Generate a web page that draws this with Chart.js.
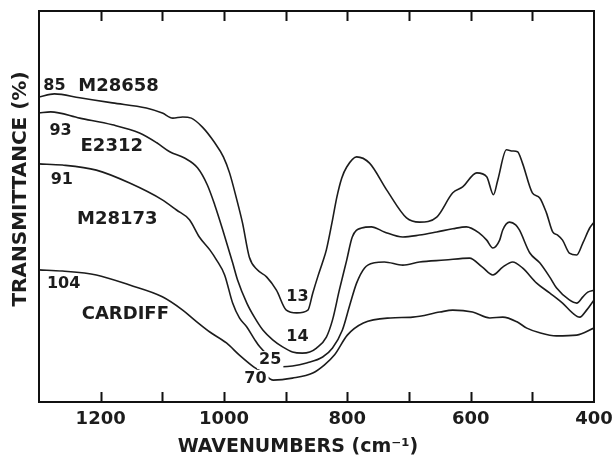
<!DOCTYPE html>
<html>
<head>
<meta charset="utf-8">
<script src="https://cdn.jsdelivr.net/npm/chart.js@4.4.1/dist/chart.umd.min.js"></script>
<style>
  html, body { margin: 0; padding: 0; background: #fff; }
</style>
</head>
<body>
<canvas id="grafica" width="613" height="456"></canvas>
<script>
const $grafica = document.querySelector("#grafica");

// x ticks every 100 cm-1, only these get a number
const tickEtiquetas = [1200, 1000, 800, 600, 400];

// Curves (wavenumber, transmittance in arbitrary stacked units)
const m28658Wn = [1300, 1275, 1234, 1181, 1126, 1100, 1083, 1067, 1053, 1035, 1015, 1001, 991, 980, 970, 959, 946, 931, 915, 899, 882, 864, 856, 848, 840, 834, 824, 817, 809, 801, 785, 764, 736, 704, 683, 655, 629, 613, 590, 574, 563, 556, 542, 532, 524, 516, 500, 488, 477, 467, 459, 451, 440, 428, 418, 407, 400];
const m28658T = [78.0, 78.8, 77.8, 76.5, 75.2, 73.9, 72.6, 72.9, 72.6, 70.3, 66.3, 62.7, 58.6, 52.2, 45.8, 37.1, 33.8, 32.0, 28.6, 23.5, 22.8, 23.5, 27.9, 32.0, 35.8, 38.9, 46.6, 52.4, 57.3, 60.1, 62.7, 61.1, 54.2, 47.1, 46.0, 47.3, 53.5, 55.0, 58.6, 57.6, 53.0, 56.8, 64.5, 64.2, 64.0, 61.1, 53.5, 52.2, 48.3, 43.5, 42.7, 41.4, 38.1, 37.6, 40.7, 44.5, 46.0];

const e2312Wn = [1300, 1281, 1234, 1181, 1137, 1109, 1088, 1064, 1043, 1027, 1015, 1002, 986, 978, 963, 950, 937, 921, 905, 889, 873, 861, 850, 834, 824, 813, 801, 792, 777, 761, 740, 710, 683, 655, 629, 607, 586, 574, 564, 553, 548, 537, 527, 521, 504, 488, 472, 461, 440, 428, 418, 410, 400];
const e2312T = [73.9, 74.2, 72.6, 70.9, 68.8, 66.3, 64.0, 62.4, 59.9, 55.5, 50.4, 44.0, 35.6, 31.2, 25.3, 21.5, 18.4, 15.9, 14.1, 12.8, 12.5, 12.8, 13.8, 16.6, 21.0, 28.6, 36.3, 42.2, 44.5, 44.8, 43.5, 42.2, 42.7, 43.5, 44.3, 44.8, 43.2, 41.4, 39.4, 41.4, 44.0, 46.0, 45.3, 44.0, 38.1, 35.6, 32.0, 29.2, 26.1, 25.3, 26.9, 28.1, 28.6];

const m28173Wn = [1300, 1262, 1207, 1153, 1100, 1077, 1056, 1040, 1023, 1012, 999, 986, 975, 963, 950, 942, 929, 905, 889, 866, 840, 824, 808, 796, 785, 772, 756, 740, 710, 683, 642, 602, 581, 564, 548, 532, 516, 493, 472, 451, 435, 423, 412, 400];
const m28173T = [60.9, 60.6, 59.3, 56.0, 51.7, 49.1, 46.6, 42.2, 38.9, 36.3, 32.5, 25.3, 21.5, 19.2, 15.9, 14.1, 12.0, 9.0, 9.2, 10.0, 11.5, 13.8, 18.4, 24.8, 30.4, 34.3, 35.6, 35.8, 35.0, 35.8, 36.3, 36.8, 34.5, 32.5, 34.5, 35.8, 34.3, 30.4, 27.9, 25.3, 22.8, 21.7, 23.5, 26.1];

const cardiffWn = [1300, 1262, 1207, 1153, 1100, 1067, 1048, 1023, 996, 975, 952, 939, 920, 889, 856, 837, 821, 800, 774, 730, 694, 650, 629, 597, 569, 548, 525, 509, 488, 461, 428, 400];
const cardiffT = [33.8, 33.5, 32.5, 29.9, 26.9, 23.5, 21.0, 17.9, 15.1, 12.0, 9.0, 7.7, 5.6, 6.1, 7.4, 9.5, 12.0, 17.1, 20.2, 21.5, 21.7, 23.0, 23.5, 23.0, 21.5, 21.7, 20.5, 18.9, 17.7, 16.9, 17.1, 18.9];

// curve names and the numbers written at both ends
const muestras = ['M28658', 'E2312', 'M28173', 'CARDIFF'];
const valoresInicio = ['85', '93', '91', '104'];
const valoresMinimo = ['13', '14', '25', '70'];

const curvas = [
    [m28658Wn, m28658T],
    [e2312Wn, e2312T],
    [m28173Wn, m28173T],
    [cardiffWn, cardiffT],
];

const colorTinta = '#1c1c1c';
const fuente = 'DejaVu Sans';

const datasets = curvas.map(([wn, t], i) => ({
    label: muestras[i],
    data: wn.map((w, j) => ({ x: w, y: t[j] })),
    borderColor: colorTinta,
    borderWidth: 1.6,
    pointRadius: 0,
    fill: false,
    cubicInterpolationMode: 'monotone',
}));

// where the texts sit, in data units [wavenumber, y]
const posNombres = [[1171, 80.8], [1182, 65.5], [1173, 46.8], [1160, 22.3]];
const posInicio = [[1275, 80.8], [1265, 69.3], [1263, 56.8], [1260, 30.2]];
const posMinimo = [[881, 26.9], [881, 16.6], [925, 10.7], [949, 5.9]];

const marcoYTextos = {
    id: 'marcoYTextos',
    afterDatasetsDraw(chart) {
        const { ctx, chartArea: a, scales: { x, y } } = chart;
        ctx.save();
        ctx.strokeStyle = '#111';
        ctx.lineWidth = 2;
        // tick marks pointing inwards, top and bottom
        x.ticks.forEach(t => {
            if (t.value <= 400 || t.value >= 1300) return;
            const px = Math.round(x.getPixelForValue(t.value)) + 0.5;
            ctx.beginPath();
            ctx.moveTo(px, a.bottom);
            ctx.lineTo(px, a.bottom - 10);
            ctx.moveTo(px, a.top);
            ctx.lineTo(px, a.top + 10);
            ctx.stroke();
        });
        ctx.strokeRect(a.left, a.top, a.right - a.left, a.bottom - a.top);

        ctx.fillStyle = colorTinta;
        ctx.textAlign = 'center';
        ctx.textBaseline = 'middle';
        const escribir = (txt, p, size, fondo) => {
            const px = x.getPixelForValue(p[0]);
            const py = y.getPixelForValue(p[1]);
            ctx.font = 'bold ' + size + 'px "' + fuente + '"';
            if (fondo) {
                const w = ctx.measureText(txt).width;
                ctx.fillStyle = '#fff';
                ctx.fillRect(px - w / 2 - 2, py - size / 2 - 1, w + 4, size + 2);
                ctx.fillStyle = colorTinta;
            }
            ctx.fillText(txt, px, py);
        };
        muestras.forEach((m, i) => escribir(m, posNombres[i], 18, false));
        valoresInicio.forEach((v, i) => escribir(v, posInicio[i], 16, false));
        valoresMinimo.forEach((v, i) => escribir(v, posMinimo[i], 16, i >= 2));

        // x axis title, sits a bit left of centre in the original
        ctx.font = 'bold 19px "' + fuente + '"';
        ctx.fillText('WAVENUMBERS (cm\u207B\u00B9)', 298, 447);

        // y axis title
        ctx.translate(21, 189);
        ctx.rotate(-Math.PI / 2);
        ctx.font = 'bold 20px "' + fuente + '"';
        ctx.fillText('TRANSMITTANCE (%)', 0, 0);
        ctx.restore();
    }
};

new Chart($grafica, {
    type: 'line',
    data: { datasets },
    options: {
        responsive: false,
        animation: false,
        devicePixelRatio: 1,
        layout: { padding: { left: 39, top: 11, right: 19, bottom: 0 } },
        plugins: { legend: { display: false }, tooltip: { enabled: false } },
        scales: {
            x: {
                type: 'linear',
                reverse: true,
                min: 400,
                max: 1300,
                grid: { display: false, drawTicks: false },
                border: { display: false },
                ticks: {
                    stepSize: 100,
                    autoSkip: false,
                    maxRotation: 0,
                    padding: 7,
                    color: colorTinta,
                    font: { family: fuente, size: 18, weight: 'bold' },
                    callback: v => tickEtiquetas.includes(v) ? String(v) : '',
                },
                afterFit: s => {
                    s.height = 54;
                    s.paddingLeft = 0;
                    s.paddingRight = 0;
                },
            },
            y: {
                display: false,
                min: 0,
                max: 100,
            },
        },
    },
    plugins: [marcoYTextos],
});
</script>
</body>
</html>
